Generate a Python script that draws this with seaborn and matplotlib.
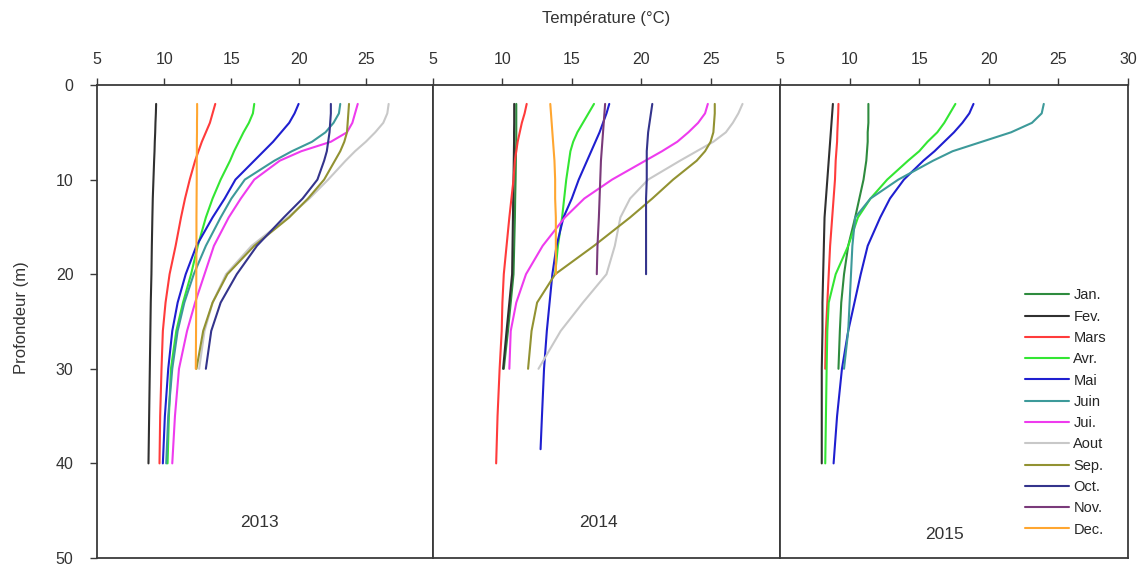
"""Profils verticaux de température, 2013-2015."""
import matplotlib
matplotlib.use("Agg")
import matplotlib.pyplot as plt
from matplotlib.lines import Line2D
import seaborn as sns
import pandas as pd

sns.set_style("ticks")
plt.rcParams["font.family"] = ["Liberation Sans", "DejaVu Sans"]

MONTHS = ["Jan.", "Fev.", "Mars", "Avr.", "Mai", "Juin",
          "Jui.", "Aout", "Sep.", "Oct.", "Nov.", "Dec."]
COLORS = ["#2e8b3e", "#303030", "#ff3b3b", "#33e633", "#1f1fd0", "#3d9a9a",
          "#ee3bee", "#c8c8c8", "#929232", "#34348c", "#7a3a7a", "#ffa630"]
YEARS = [2013, 2014, 2015]

# depth grids (m)
D20 = [2, 3, 4, 5, 6, 7, 8, 10, 12, 14, 17, 20]
D30 = D20 + [23, 26, 30]
D40 = D30 + [35, 40]
D39 = D30 + [35, 38.5]

# 2013 temperatures (°C)
t13_fev = [9.4, 9.38, 9.35, 9.33, 9.3, 9.28, 9.25, 9.2, 9.15, 9.12, 9.08, 9.05, 9.0, 8.97, 8.93, 8.88, 8.83]
t13_mars = [13.8, 13.6, 13.4, 13.1, 12.8, 12.55, 12.3, 11.9, 11.55, 11.25, 10.85, 10.4, 10.1, 9.9, 9.8, 9.7, 9.65]
t13_avr = [16.7, 16.6, 16.3, 15.9, 15.55, 15.2, 14.9, 14.2, 13.6, 13.1, 12.5, 12.0, 11.4, 10.9, 10.5, 10.35, 10.25]
t13_mai = [20.0, 19.7, 19.3, 18.7, 18.1, 17.4, 16.7, 15.3, 14.5, 13.6, 12.4, 11.6, 11.0, 10.6, 10.3, 10.05, 9.9]
t13_juin = [23.1, 23.0, 22.6, 22.0, 21.0, 19.5, 18.2, 16.0, 15.0, 14.2, 13.1, 12.2, 11.5, 11.0, 10.6, 10.3, 10.15]
t13_jui = [24.4, 24.2, 24.0, 23.6, 22.4, 20.2, 18.6, 16.7, 15.7, 14.8, 13.7, 13.0, 12.3, 11.7, 11.1, 10.8, 10.6]
t13_aout = [26.7, 26.6, 26.3, 25.7, 25.0, 24.2, 23.5, 22.2, 20.8, 19.2, 16.5, 14.6, 13.6, 13.0, 12.6]
t13_sep = [23.75, 23.7, 23.65, 23.6, 23.4, 23.1, 22.7, 21.9, 20.7, 19.3, 16.7, 14.7, 13.6, 12.9, 12.4]
t13_oct = [22.4, 22.4, 22.35, 22.3, 22.2, 22.1, 21.9, 21.4, 20.3, 18.9, 16.9, 15.4, 14.2, 13.5, 13.1]
t13_dec = [12.45, 12.45, 12.44, 12.44, 12.43, 12.43, 12.42, 12.42, 12.41, 12.4, 12.4, 12.39, 12.38, 12.37, 12.35]

# 2014 temperatures (°C)
t14_jan = [11.0, 11.0, 11.0, 11.0, 11.0, 10.98, 10.97, 10.95, 10.92, 10.9, 10.85, 10.8, 10.6, 10.4, 10.1]
t14_fev = [10.85, 10.85, 10.85, 10.84, 10.84, 10.83, 10.82, 10.8, 10.78, 10.76, 10.73, 10.7, 10.5, 10.3, 10.05]
t14_mars = [11.75, 11.6, 11.4, 11.25, 11.1, 11.0, 10.9, 10.8, 10.65, 10.5, 10.3, 10.1, 10.0, 9.95, 9.8, 9.65, 9.55]
t14_avr = [16.6, 16.2, 15.8, 15.4, 15.1, 14.9, 14.8, 14.6, 14.45, 14.3, 14.0, 13.8]
t14_mai = [17.7, 17.5, 17.25, 17.0, 16.7, 16.4, 16.1, 15.5, 15.0, 14.4, 13.9, 13.6, 13.4, 13.2, 13.0, 12.85, 12.75]
t14_jui = [24.8, 24.6, 24.1, 23.4, 22.6, 21.5, 20.3, 17.9, 15.9, 14.5, 12.9, 11.7, 11.0, 10.6, 10.5]
t14_aout = [27.3, 27.0, 26.6, 26.1, 25.2, 24.0, 22.8, 20.5, 19.2, 18.5, 18.1, 17.5, 15.8, 14.2, 12.6]
t14_sep = [25.3, 25.3, 25.25, 25.2, 25.0, 24.6, 24.0, 22.3, 20.8, 19.2, 16.6, 13.8, 12.5, 12.1, 11.85]
t14_oct = [20.8, 20.7, 20.6, 20.5, 20.45, 20.4, 20.4, 20.4, 20.35, 20.35, 20.35, 20.35]
t14_nov = [17.4, 17.35, 17.3, 17.25, 17.2, 17.15, 17.1, 17.05, 17.0, 16.95, 16.85, 16.8]
t14_dec = [13.45, 13.5, 13.55, 13.6, 13.65, 13.7, 13.75, 13.8, 13.8, 13.85, 13.85, 13.85]

# 2015 temperatures (°C)
t15_jan = [11.35, 11.35, 11.35, 11.3, 11.3, 11.25, 11.2, 11.0, 10.7, 10.4, 9.9, 9.6, 9.4, 9.3, 9.2]
t15_fev = [8.8, 8.75, 8.7, 8.65, 8.6, 8.55, 8.5, 8.4, 8.3, 8.2, 8.15, 8.1, 8.05, 8.05, 8.0, 8.0, 8.0]
t15_mars = [9.2, 9.18, 9.15, 9.12, 9.1, 9.05, 9.0, 8.95, 8.85, 8.75, 8.6, 8.5, 8.4, 8.3, 8.25]
t15_avr = [17.6, 17.2, 16.8, 16.3, 15.6, 15.0, 14.2, 12.7, 11.5, 10.6, 9.9, 9.0, 8.5, 8.4, 8.35, 8.3, 8.25]
t15_mai = [18.9, 18.6, 18.1, 17.5, 16.8, 16.1, 15.3, 13.9, 12.9, 12.2, 11.3, 10.8, 10.35, 9.9, 9.45, 9.1, 8.85]
t15_juin = [23.95, 23.8, 23.1, 21.6, 19.5, 17.4, 16.0, 13.5, 11.5, 10.4, 10.2, 10.1, 10.0, 9.9, 9.6]

profiles = [
    (2013, "Fev.", D40, t13_fev), (2013, "Mars", D40, t13_mars),
    (2013, "Avr.", D40, t13_avr), (2013, "Mai", D40, t13_mai),
    (2013, "Juin", D40, t13_juin), (2013, "Jui.", D40, t13_jui),
    (2013, "Aout", D30, t13_aout), (2013, "Sep.", D30, t13_sep),
    (2013, "Oct.", D30, t13_oct), (2013, "Dec.", D30, t13_dec),
    (2014, "Jan.", D30, t14_jan), (2014, "Fev.", D30, t14_fev),
    (2014, "Mars", D40, t14_mars), (2014, "Avr.", D20, t14_avr),
    (2014, "Mai", D39, t14_mai), (2014, "Jui.", D30, t14_jui),
    (2014, "Aout", D30, t14_aout), (2014, "Sep.", D30, t14_sep),
    (2014, "Oct.", D20, t14_oct), (2014, "Nov.", D20, t14_nov),
    (2014, "Dec.", D20, t14_dec),
    (2015, "Jan.", D30, t15_jan), (2015, "Fev.", D40, t15_fev),
    (2015, "Mars", D30, t15_mars), (2015, "Avr.", D40, t15_avr),
    (2015, "Mai", D40, t15_mai), (2015, "Juin", D30, t15_juin),
]

rows = []
for year, month, depths, temps in profiles:
    for d, t in zip(depths, temps):
        rows.append({"year": year, "month": month, "depth": d, "temp": t})
df = pd.DataFrame(rows)

palette = dict(zip(MONTHS, COLORS))
edge = "#3a3a3a"

fig = plt.figure(figsize=(11.45, 5.7), dpi=100)
W, H = 1145, 570
lefts = [97, 433, 780]
rights = [433, 780, 1128]
axes = [fig.add_axes([l / W, 12 / H, (r - l) / W, 473 / H]) for l, r in zip(lefts, rights)]

label_pos = {2013: (17.1, 46.2), 2014: (16.9, 46.2), 2015: (16.8, 47.5)}

for ax, year in zip(axes, YEARS):
    sub = df[df["year"] == year]
    sns.lineplot(data=sub, x="temp", y="depth", hue="month", palette=palette,
                 hue_order=[m for m in MONTHS if m in set(sub["month"])],
                 sort=False, estimator=None, legend=False, linewidth=1.5, ax=ax)
    ax.set_xlim(5, 30)
    ax.set_ylim(50, 0)
    ax.set_xlabel("")
    ax.set_ylabel("")
    ax.xaxis.tick_top()
    ax.set_xticks([5, 10, 15, 20, 25, 30] if year == 2015 else [5, 10, 15, 20, 25])
    ax.tick_params(axis="x", direction="out", length=5, width=1, pad=8,
                   labelsize=11.5, colors=edge, labelcolor="#333333")
    for s in ax.spines.values():
        s.set_color(edge)
        s.set_linewidth(1.3)
    tx, ty = label_pos[year]
    ax.text(tx, ty, str(year), ha="center", va="center", fontsize=12.5, color="#333333")
    if year == 2013:
        ax.set_yticks([0, 10, 20, 30, 40, 50])
        ax.tick_params(axis="y", direction="out", length=5, width=1, pad=12,
                       labelsize=11.5, colors=edge, labelcolor="#333333")
    else:
        ax.set_yticks([])

fig.text(606 / W, 1 - 19 / H, "Température (°C)", ha="center", va="center",
         fontsize=12, color="#333333")
fig.text(22 / W, 1 - 318 / H, "Profondeur (m)", ha="center", va="center",
         rotation=90, fontsize=12, color="#333333")

handles = [Line2D([0], [0], color=c, lw=1.5) for c in COLORS]
axes[2].legend(handles, MONTHS, loc="upper left", bbox_to_anchor=(0.705, 0.57),
               frameon=False, fontsize=10.5, handlelength=3.0, handletextpad=0.3,
               labelspacing=0.5, borderpad=0, borderaxespad=0)

fig.savefig("out.png", dpi=100)
